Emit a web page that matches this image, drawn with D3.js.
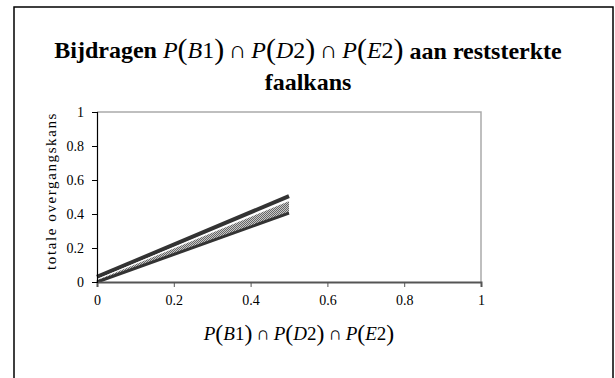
<!DOCTYPE html>
<html><head><meta charset="utf-8">
<script src="https://cdn.jsdelivr.net/npm/d3@7"></script>
<style>body{margin:0;background:#fff}svg{display:block}svg text{font-family:"Times New Roman","Liberation Serif","DejaVu Serif",serif}</style>
</head><body>
<svg id="c" width="615" height="378"></svg>
<script>
const xValues = [0, 0.5];
const upperLine = [0.03, 0.505];
const innerLine = [0.015, 0.48];
const lowerLine = [0, 0.405];
const xTicks = [0, 0.2, 0.4, 0.6, 0.8, 1];
const yTicks = [0, 0.2, 0.4, 0.6, 0.8, 1];

const FONT = '"Times New Roman","Liberation Serif","DejaVu Serif",serif';
const svg = d3.select("#c");
const m = {l: 97, r: 481, t: 112, b: 282};
const x = d3.scaleLinear().domain([0, 1]).range([m.l, m.r]);
const y = d3.scaleLinear().domain([0, 1]).range([m.b, m.t]);

svg.append("rect").attr("x", 14).attr("y", 7).attr("width", 599).attr("height", 380)
  .attr("fill", "none").attr("stroke", "#000").attr("stroke-width", 1.5);

const defs = svg.append("defs");
const pat = defs.append("pattern").attr("id", "dots").attr("width", 2).attr("height", 2).attr("patternUnits", "userSpaceOnUse");
pat.append("rect").attr("width", 2).attr("height", 2).attr("fill", "#c8c8c8");
pat.append("rect").attr("width", 1).attr("height", 1).attr("fill", "#666");
pat.append("rect").attr("x", 1).attr("y", 1).attr("width", 1).attr("height", 1).attr("fill", "#666");

svg.append("path").attr("d", `M${m.l},${m.t}H${m.r}V${m.b}`).attr("fill", "none").attr("stroke", "#aaa").attr("stroke-width", 1.5);

function mathSpans(t, size) {
  const parts = ["B1", "D2", "E2"];
  parts.forEach((p, i) => {
    t.append("tspan").attr("font-style", "italic").attr("font-weight", "normal").attr("font-size", size).text("P");
    t.append("tspan").attr("font-weight", "normal").attr("font-size", size * 1.25).attr("dy", 1).text("(");
    t.append("tspan").attr("font-style", "italic").attr("font-weight", "normal").attr("font-size", size).attr("dy", -1).text(p[0]);
    t.append("tspan").attr("font-weight", "normal").attr("font-size", size).text(p[1]);
    t.append("tspan").attr("font-weight", "normal").attr("font-size", size * 1.25).attr("dy", 1).text(")");
    if (i < 2) t.append("tspan").attr("font-weight", "normal").attr("font-size", size).attr("dy", -1).text("\u2009∩\u2009");
    else t.append("tspan").attr("dy", -1).text("");
  });
}
const title = svg.append("text").attr("x", 308).attr("y", 58).attr("text-anchor", "middle")
  .attr("font-family", FONT).attr("font-size", 24).attr("font-weight", "bold");
title.append("tspan").text("Bijdragen  ");
mathSpans(title, 24);
title.append("tspan").text(" aan reststerkte");
svg.append("text").attr("x", 308).attr("y", 90).attr("text-anchor", "middle").attr("font-family", FONT)
  .attr("font-size", 24).attr("font-weight", "bold").text("faalkans");

const area = d3.area().x((d, i) => x(xValues[i])).y0((d, i) => y(lowerLine[i])).y1((d, i) => y(innerLine[i]));
svg.append("path").datum(xValues).attr("d", area).attr("fill", "url(#dots)");

const line = arr => d3.line().x((d, i) => x(xValues[i])).y((d, i) => y(arr[i]))(xValues);
svg.append("path").attr("d", line(upperLine)).attr("stroke", "#333").attr("stroke-width", 4).attr("fill", "none");
svg.append("path").attr("d", line(innerLine)).attr("stroke", "#fff").attr("stroke-width", 1.2).attr("fill", "none");
svg.append("path").attr("d", line(lowerLine)).attr("stroke", "#333").attr("stroke-width", 3).attr("fill", "none");

const xa = svg.append("g").attr("transform", `translate(0,${m.b})`)
  .call(d3.axisBottom(x).tickValues(xTicks).tickSize(5).tickPadding(8).tickFormat(d3.format("")));
xa.select(".domain").attr("stroke", "#555").attr("stroke-width", 2);
xa.selectAll(".tick line").attr("stroke", "#555");
xa.selectAll("text").attr("fill", "#000").style("font-size", "14px");

const ya = svg.append("g").attr("transform", `translate(${m.l},0)`)
  .call(d3.axisLeft(y).tickValues(yTicks).tickSize(5).tickPadding(8).tickFormat(d3.format("")));
ya.select(".domain").attr("stroke", "#000").attr("stroke-width", 1.2);
ya.selectAll("text").attr("fill", "#000").style("font-size", "14px");

svg.append("text").attr("transform", `translate(56,191) rotate(-90)`).attr("font-family", FONT)
  .attr("text-anchor", "middle").style("font-size", "15px").attr("letter-spacing", 1.6).text("totale overgangskans");
const xt = svg.append("text").attr("x", 299).attr("y", 340).attr("text-anchor", "middle")
  .attr("font-family", FONT).attr("font-size", 19);
mathSpans(xt, 19);
</script>
</body></html>
